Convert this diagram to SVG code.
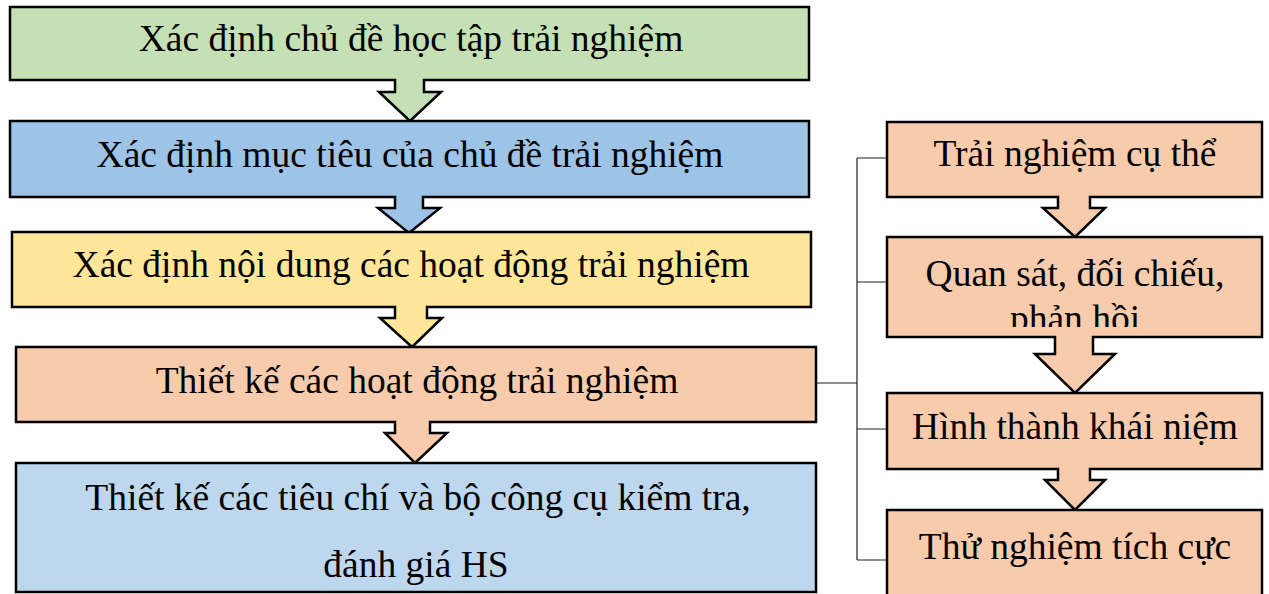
<svg xmlns="http://www.w3.org/2000/svg" width="1269" height="594" viewBox="0 0 1269 594">
<style>
.box{stroke:#000;stroke-width:2.5;stroke-linejoin:miter}
.t{font-family:"Liberation Serif","Times New Roman",serif;font-size:37.5px;fill:#000;text-anchor:middle}
.c{fill:none;stroke:#222;stroke-width:1.2}
</style>
<defs>
<clipPath id="clipQ"><rect x="888" y="238" width="373" height="89"/></clipPath>
</defs>
<rect width="1269" height="594" fill="#fff"/>
<g id="connectors">
<path class="c" d="M816,383 H857 M857,158 V560 M857,158 H887 M857,282 H887 M857,429 H887 M857,560 H887"/>
</g>
<g id="n1">
<path class="box" fill="#C5E0B4" d="M10,7 H809 V80 H424 V92 H441 L410,121 L379,92 H395 V80 H10 Z"/>
<text class="t" x="411" y="51">Xác định chủ đề học tập trải nghiệm</text>
</g>
<g id="n2">
<path class="box" fill="#9DC3E6" d="M10,121 H809 V197 H423 V208 H440 L409,233 L378,208 H395 V197 H10 Z"/>
<text class="t" x="410" y="167">Xác định mục tiêu của chủ đề trải nghiệm</text>
</g>
<g id="n3">
<path class="box" fill="#FFE699" d="M12,232 H811 V307 H427 V318 H442 L412,347 L380,318 H395 V307 H12 Z"/>
<text class="t" x="411" y="277">Xác định nội dung các hoạt động trải nghiệm</text>
</g>
<g id="n4">
<path class="box" fill="#F8CBAD" d="M16,347 H816 V422 H430 V433 H447 L415,463 L385,433 H395 V422 H16 Z"/>
<text class="t" x="417" y="393">Thiết kế các hoạt động trải nghiệm</text>
</g>
<g id="n5">
<rect class="box" fill="#BDD7EE" x="16" y="463" width="800" height="129"/>
<text class="t" x="418" y="510">Thiết kế các tiêu chí và bộ công cụ kiểm tra,</text>
<text class="t" x="416" y="577">đánh giá HS</text>
</g>
<g id="r1">
<path class="box" fill="#F8CBAD" d="M887,122 H1262 V197 H1090 V208 H1105 L1075,237 L1043,208 H1058 V197 H887 Z"/>
<text class="t" x="1075" y="166">Trải nghiệm cụ thể</text>
</g>
<g id="r2">
<path class="box" fill="#F8CBAD" d="M887,237 H1262 V337 H1093 V354 H1115 L1075,393 L1035,354 H1055 V337 H887 Z"/>
<g clip-path="url(#clipQ)">
<text class="t" x="1075" y="286">Quan sát, đối chiếu,</text>
<text class="t" x="1075" y="331">phản hồi</text>
</g>
</g>
<g id="r3">
<path class="box" fill="#F8CBAD" d="M887,393 H1262 V469 H1090 V480 H1105 L1075,510 L1045,480 H1058 V469 H887 Z"/>
<text class="t" x="1075" y="439">Hình thành khái niệm</text>
</g>
<g id="r4">
<rect class="box" fill="#F8CBAD" x="887" y="510" width="375" height="95"/>
<text class="t" x="1075" y="559">Thử nghiệm tích cực</text>
</g>
</svg>
